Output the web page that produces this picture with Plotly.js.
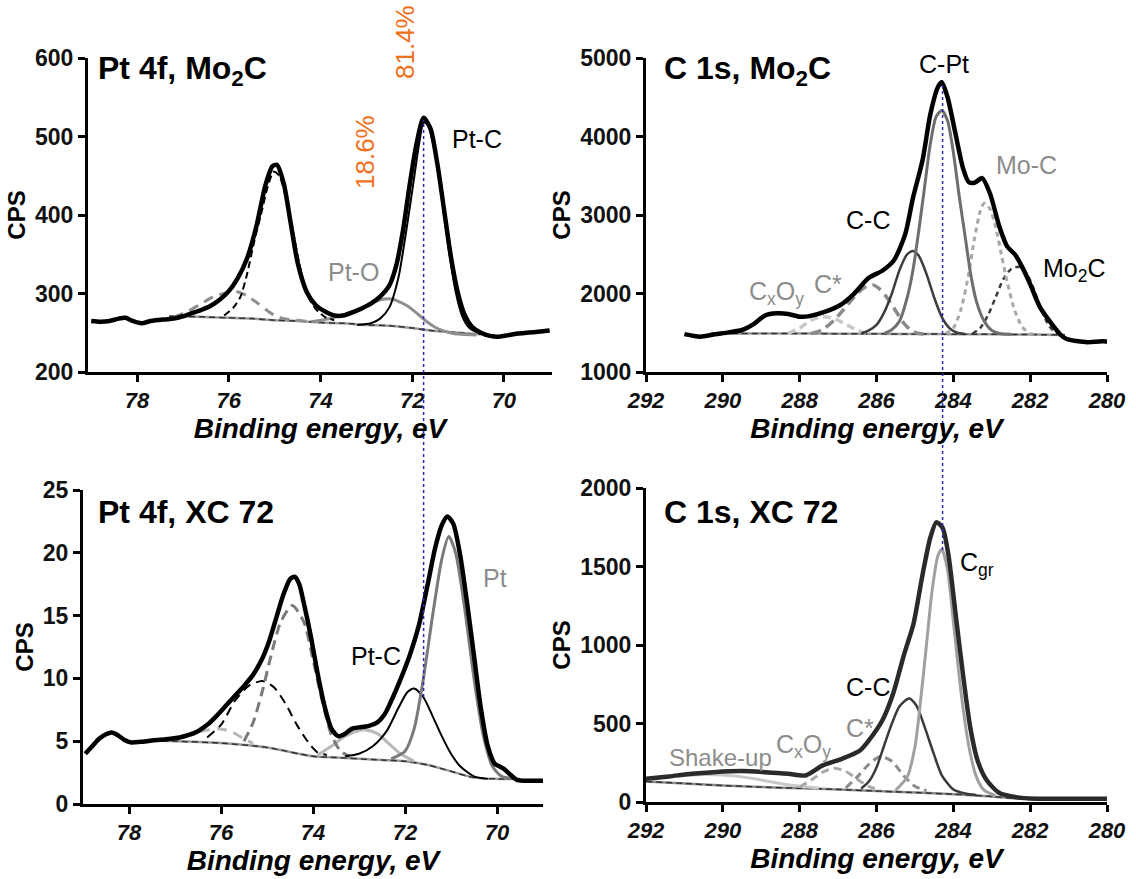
<!DOCTYPE html>
<html><head><meta charset="utf-8">
<script src="https://cdn.plot.ly/plotly-3.0.1.min.js"></script>
<style>html,body{margin:0;padding:0;background:#fff}#chart{width:1136px;height:879px}</style>
</head><body><div id="chart"></div><script>
// ---------- Panel A: Pt 4f, Mo2C ----------
const ptMoE = [79.0,78.8,78.6,78.4,78.25,78.1,77.9,77.7,77.4,77.2,77.0,76.8,76.6,76.4,76.2,76.0,75.8,75.6,75.4,75.2,75.05,74.95,74.8,74.65,74.5,74.3,74.1,73.9,73.7,73.5,73.3,73.1,72.9,72.7,72.5,72.35,72.2,72.05,71.9,71.75,71.6,71.45,71.3,71.15,71.0,70.85,70.7,70.5,70.3,70.1,69.9,69.7,69.5,69.3,69.0];
const ptMoCps = [265,264,265,268,269,265,262,265,267,268,271,275,279,284,292,303,320,345,385,438,462,464,440,390,340,302,285,277,272,272,276,281,287,296,310,335,380,440,492,524,510,465,405,345,300,272,258,250,246,245,247,249,250,251,253];
const ptMoPtC72E = [73.2,72.9,72.7,72.5,72.3,72.15,72.0,71.85,71.75,71.65,71.5,71.35,71.2,71.05,70.9,70.75,70.6,70.4];
const ptMoPtC72 = [260,262,268,282,320,372,430,490,518,514,478,420,355,302,270,256,251,249];
const ptMoPtC52E = [76.1,75.9,75.75,75.6,75.45,75.3,75.15,75.02,74.9,74.75,74.6,74.45,74.3,74.1,73.9,73.7];
const ptMoPtC52 = [272,282,295,325,365,400,436,455,450,422,380,335,300,280,270,266];
const ptMoPtO72E = [74.2,73.8,73.4,73.1,72.8,72.6,72.45,72.3,72.1,71.9,71.7,71.5,71.3,71.1,70.9,70.6];
const ptMoPtO72 = [264,268,275,282,290,293,293,290,284,275,265,257,252,249,248,247];
const ptMoPtO52E = [77.2,76.9,76.6,76.3,76.0,75.8,75.6,75.4,75.2,75.0,74.8,74.5,74.2];
const ptMoPtO52 = [270,277,287,297,301,302,297,289,280,272,268,266,264];
const ptMoBgE = [77.3,77.0,76.5,76.0,75.5,75.0,74.5,74.0,73.5,73.0,72.5,72.0,71.6,71.2,70.8,70.5];
const ptMoBg = [271,271,270,269,268,266,265,263,262,260,259,256,253,251,249,248];

// ---------- Panel B: C 1s, Mo2C ----------
const cMoE = [291.0,290.6,290.2,289.85,289.5,289.2,288.9,288.6,288.3,288.0,287.75,287.35,286.95,286.6,286.2,285.85,285.55,285.25,285.05,284.8,284.6,284.4,284.3,284.15,283.95,283.75,283.6,283.45,283.25,283.05,282.8,282.6,282.4,282.2,282.0,281.75,281.45,281.2,281.05,280.8,280.5,280.2,280.0];
const cMoCps = [1482,1450,1480,1505,1535,1610,1720,1748,1740,1705,1712,1765,1850,1990,2200,2290,2420,2760,3220,3700,4280,4630,4690,4500,4050,3600,3420,3410,3470,3280,2850,2600,2500,2330,2120,1830,1620,1470,1420,1395,1380,1390,1390];
const cMoCPtE = [285.8,285.6,285.4,285.2,285.05,284.9,284.75,284.6,284.45,284.3,284.15,284.0,283.85,283.7,283.55,283.4,283.2,283.0,282.8,282.5];
const cMoCPt = [1490,1540,1650,1950,2300,2800,3350,3900,4250,4330,4200,3800,3250,2750,2250,1900,1650,1530,1490,1480];
const cMoCCE = [286.4,286.2,286.0,285.8,285.6,285.4,285.2,285.05,284.9,284.7,284.5,284.3,284.1,283.9,283.7];
const cMoCC = [1490,1530,1600,1760,2000,2300,2500,2540,2480,2250,1950,1700,1560,1500,1485];
const cMoMoCE = [284.2,284.0,283.8,283.6,283.45,283.3,283.2,283.05,282.9,282.75,282.6,282.4,282.2,282.0,281.8];
const cMoMoC = [1490,1560,1800,2250,2700,3050,3150,3080,2850,2500,2150,1780,1570,1490,1480];
const cMoMo2CE = [283.5,283.3,283.1,282.9,282.7,282.5,282.3,282.2,282.05,281.9,281.7,281.5,281.3,281.1];
const cMoMo2C = [1490,1560,1720,1950,2180,2310,2340,2320,2220,2050,1780,1580,1490,1480];
const cMoCstarE = [287.7,287.4,287.1,286.8,286.5,286.3,286.1,285.9,285.7,285.5,285.3,285.1,284.9,284.7];
const cMoCstar = [1490,1540,1660,1830,2000,2080,2110,2050,1930,1780,1630,1530,1490,1480];
const cMoCxOyE = [288.3,288.0,287.7,287.4,287.1,286.8,286.5,286.2];
const cMoCxOy = [1490,1560,1660,1705,1680,1610,1530,1485];
const cMoBgE = [290.3,289.0,288.0,287.0,286.0,285.0,284.0,283.0,282.0,281.1];
const cMoBg = [1490,1490,1490,1488,1486,1484,1482,1480,1478,1470];

// ---------- Panel C: Pt 4f, XC 72 ----------
const ptXcE = [78.95,78.8,78.65,78.5,78.38,78.25,78.1,77.95,77.75,77.5,77.2,76.9,76.7,76.5,76.3,76.1,75.9,75.7,75.5,75.3,75.1,74.95,74.8,74.65,74.5,74.4,74.3,74.2,74.05,73.9,73.75,73.6,73.45,73.3,73.15,73.0,72.8,72.6,72.45,72.3,72.1,71.9,71.7,71.5,71.35,71.2,71.08,70.95,70.8,70.65,70.5,70.35,70.2,70.05,69.95,69.85,69.7,69.55,69.3,69.0];
const ptXcCps = [4.0,4.6,5.2,5.55,5.7,5.5,5.1,4.9,4.95,5.05,5.15,5.3,5.5,5.8,6.3,7.0,7.8,8.6,9.4,10.3,11.6,13.0,14.8,16.6,17.9,18.1,17.5,16.0,13.4,10.4,7.8,6.0,5.4,5.6,6.0,6.1,6.2,6.5,7.1,8.2,9.9,11.8,14.2,17.6,20.3,22.2,22.9,22.3,19.8,16.0,11.8,7.6,4.6,3.2,3.0,2.8,2.3,1.9,1.85,1.85];
const ptXcPtE = [72.3,72.0,71.8,71.6,71.4,71.2,71.05,70.9,70.7,70.5,70.3,70.1,69.9,69.6];
const ptXcPt = [3.6,4.2,6.0,10.0,15.0,19.5,21.3,20.0,15.5,10.0,5.5,3.0,2.2,2.0];
const ptXcPt52E = [75.5,75.3,75.1,74.9,74.7,74.45,74.2,74.0,73.8,73.6,73.4,73.2];
const ptXcPt52 = [5.0,6.5,9.0,12.0,14.5,15.8,14.5,11.5,8.2,5.5,4.2,3.8];
const ptXcPtCE = [73.3,73.0,72.7,72.4,72.15,71.95,71.8,71.6,71.4,71.2,71.0,70.8,70.5,70.2];
const ptXcPtC = [3.8,4.0,4.6,5.8,7.6,8.9,9.2,8.5,7.0,5.4,4.0,3.0,2.2,2.0];
const ptXcPtC52E = [76.3,76.0,75.7,75.4,75.1,74.85,74.6,74.35,74.1,73.9,73.7];
const ptXcPtC52 = [5.3,6.3,8.2,9.4,9.8,9.3,8.0,6.3,4.9,4.1,3.9];
const ptXcPtOE = [73.9,73.6,73.3,73.0,72.85,72.6,72.35,72.1,71.8];
const ptXcPtO = [3.9,4.6,5.4,5.85,5.9,5.6,4.8,4.0,3.4];
const ptXcPtO52E = [76.8,76.4,76.05,75.8,75.5,75.3];
const ptXcPtO52 = [5.3,5.8,6.0,5.8,5.2,4.8];
const ptXcBgE = [77.5,77.0,76.0,75.0,74.0,73.5,72.5,72.0,71.5,71.0,70.5,70.0,69.5];
const ptXcBg = [5.05,5.0,4.85,4.5,3.8,3.7,3.5,3.4,3.1,2.6,2.1,2.0,2.0];

// ---------- Panel D: C 1s, XC 72 ----------
const cXcE = [292.0,291.4,290.8,290.25,289.5,288.9,288.3,287.85,287.4,286.9,286.43,286.2,285.85,285.57,285.28,285.04,284.8,284.6,284.44,284.28,284.13,283.94,283.75,283.56,283.37,283.13,282.8,282.4,281.85,280.9,280.0];
const cXcCps = [148,163,180,190,197,190,180,169,233,275,328,392,519,688,942,1132,1450,1683,1782,1746,1577,1196,815,476,265,138,57,32,21,21,21];
const cXcCgrE = [285.5,285.2,285.0,284.85,284.7,284.55,284.4,284.3,284.15,284.0,283.8,283.6,283.4,283.2,282.9];
const cXcCgr = [75,160,350,650,1000,1350,1570,1610,1480,1150,700,360,160,75,40];
const cXcCCE = [286.4,286.2,286.0,285.8,285.6,285.4,285.15,284.95,284.75,284.5,284.3,284.0,283.7,283.4];
const cXcCC = [85,130,220,360,500,610,660,610,480,300,170,80,55,45];
const cXcCstarE = [286.8,286.5,286.2,285.9,285.6,285.3,285.0,284.7];
const cXcCstar = [90,160,240,290,260,170,100,72];
const cXcCxOyE = [288.0,287.7,287.4,287.1,286.8,286.5,286.2,285.9];
const cXcCxOy = [95,140,190,215,195,145,100,75];
const cXcShakeE = [292.0,291.2,290.5,290.0,289.5,289.0,288.5,288.0,287.5];
const cXcShake = [150,165,175,172,160,140,118,100,88];
const cXcBgE = [292.0,291.0,290.0,289.0,288.0,287.0,286.0,285.0,284.0,283.0,282.5,282.0,281.0,280.0];
const cXcBg = [130,118,105,95,88,80,70,60,50,35,25,22,21,21];

// ---------- drawing ----------
const W = 1136, H = 879;
const FONT = 'Liberation Sans, Arial, sans-serif';
const px = v => v / W;
const py = v => 1 - v / H;

function tr(xs, ys, ax, color, width, dash) {
  const s = ax === 1 ? '' : String(ax);
  return {x: xs, y: ys, xaxis: 'x' + s, yaxis: 'y' + s, type: 'scatter', mode: 'lines',
    line: {color: color, width: width, dash: dash || 'solid', shape: 'spline', smoothing: 0.7},
    hoverinfo: 'skip', showlegend: false};
}

const traces = [
  // A
  tr(ptMoBgE, ptMoBg, 1, '#9a9a9a', 2.5),
  tr(ptMoBgE, ptMoBg, 1, '#333', 1.5, '6px,4px'),
  tr(ptMoPtO52E, ptMoPtO52, 1, '#8f8f8f', 3, '10px,7px'),
  tr(ptMoPtO72E, ptMoPtO72, 1, '#8f8f8f', 3),
  tr(ptMoPtC52E, ptMoPtC52, 1, '#000', 2, '7px,4px'),
  tr(ptMoPtC72E, ptMoPtC72, 1, '#000', 2),
  tr(ptMoE, ptMoCps, 1, '#000', 4.5),
  // B
  tr(cMoBgE, cMoBg, 2, '#9a9a9a', 2.5),
  tr(cMoBgE, cMoBg, 2, '#333', 1.5, '6px,4px'),
  tr(cMoCxOyE, cMoCxOy, 2, '#c8c8c8', 3.5, '8px,5px'),
  tr(cMoCstarE, cMoCstar, 2, '#8a8a8a', 3.5, '10px,6px'),
  tr(cMoMo2CE, cMoMo2C, 2, '#3c3c3c', 2.5, '5px,4px'),
  tr(cMoMoCE, cMoMoC, 2, '#a8a8a8', 3, '5px,4px'),
  tr(cMoCCE, cMoCC, 2, '#3c3c3c', 2.5),
  tr(cMoCPtE, cMoCPt, 2, '#6e6e6e', 3),
  tr(cMoE, cMoCps, 2, '#000', 4.5),
  // C
  tr(ptXcBgE, ptXcBg, 3, '#9a9a9a', 2.5),
  tr(ptXcBgE, ptXcBg, 3, '#333', 1.5, '6px,4px'),
  tr(ptXcPtO52E, ptXcPtO52, 3, '#b8b8b8', 3, '10px,7px'),
  tr(ptXcPtOE, ptXcPtO, 3, '#b8b8b8', 3),
  tr(ptXcPtC52E, ptXcPtC52, 3, '#000', 2, '9px,6px'),
  tr(ptXcPt52E, ptXcPt52, 3, '#7a7a7a', 3, '10px,6px'),
  tr(ptXcPtCE, ptXcPtC, 3, '#000', 2),
  tr(ptXcPtE, ptXcPt, 3, '#7a7a7a', 3),
  tr(ptXcE, ptXcCps, 3, '#000', 4.5),
  // D
  tr(cXcBgE, cXcBg, 4, '#8a8a8a', 2.5),
  tr(cXcBgE, cXcBg, 4, '#333', 1.5, '6px,4px'),
  tr(cXcShakeE, cXcShake, 4, '#c8c8c8', 3),
  tr(cXcCxOyE, cXcCxOy, 4, '#a8a8a8', 3, '8px,5px'),
  tr(cXcCstarE, cXcCstar, 4, '#8c8c8c', 3, '8px,5px'),
  tr(cXcCCE, cXcCC, 4, '#3a3a3a', 2.5),
  tr(cXcCgrE, cXcCgr, 4, '#a0a0a0', 3),
  tr(cXcE, cXcCps, 4, '#2a2a2a', 4.5)
];

function xax(d0, d1, range, anchor) {
  return {domain: [px(d0), px(d1)], range: range, anchor: anchor, showline: true, linecolor: '#000', linewidth: 3,
    ticks: 'outside', ticklen: 7, tickwidth: 3, tickcolor: '#000', tick0: 0, dtick: 2,
    showgrid: false, zeroline: false, automargin: false,
    tickfont: {family: FONT, size: 22, color: '#111', weight: 'bold', style: 'italic'},
    title: {text: 'Binding energy, eV', standoff: 3, font: {family: FONT, size: 28, color: '#000', weight: 'bold', style: 'italic'}}};
}
function yax(top, bot, range, dtick, anchor) {
  return {domain: [py(bot), py(top)], range: range, anchor: anchor, showline: true, linecolor: '#000', linewidth: 3,
    ticks: 'outside', ticklen: 7, tickwidth: 3, tickcolor: '#000', tick0: 0, dtick: dtick,
    showgrid: false, zeroline: false, automargin: false,
    tickfont: {family: FONT, size: 23, color: '#111', weight: 'bold'},
    title: {text: 'CPS', standoff: 3, font: {family: FONT, size: 24, color: '#000', weight: 'bold'}}};
}

function lab(text, x, y, color, size, opts) {
  return Object.assign({text: text, xref: 'paper', yref: 'paper', x: px(x), y: py(y), showarrow: false,
    xanchor: 'center', yanchor: 'middle', font: {family: FONT, size: size || 25, color: color || '#000'}}, opts || {});
}
const TITLE = {family: FONT, size: 32, color: '#000', weight: 'bold'};
const GREY = '#8c8c8c';
const ORANGE = '#f07020';
const annotations = [
  lab('Pt 4f, Mo<sub>2</sub>C', 96, 71, '#000', 32, {xanchor: 'left', font: TITLE}),
  lab('C 1s, Mo<sub>2</sub>C', 662, 71, '#000', 32, {xanchor: 'left', font: TITLE}),
  lab('Pt 4f, XC 72', 96, 512, '#000', 32, {xanchor: 'left', font: TITLE}),
  lab('C 1s, XC 72', 662, 512, '#000', 32, {xanchor: 'left', font: TITLE}),
  lab('81.4%', 405, 42, ORANGE, 26, {textangle: -90}),
  lab('18.6%', 365, 152, ORANGE, 26, {textangle: -90}),
  lab('Pt-C', 477, 139),
  lab('Pt-O', 354, 272, GREY),
  lab('C-Pt', 944, 64),
  lab('Mo-C', 1026, 165, GREY),
  lab('C-C', 868, 220),
  lab('Mo<sub>2</sub>C', 1074, 270),
  lab('C<sub>x</sub>O<sub>y</sub>', 776, 293, GREY),
  lab('C*', 828, 284, GREY),
  lab('Pt', 495, 578, GREY),
  lab('Pt-C', 376, 656),
  lab('C<sub>gr</sub>', 977, 564),
  lab('C-C', 868, 687),
  lab('C*', 860, 728, GREY),
  lab('Shake-up', 720, 757, GREY, 24),
  lab('C<sub>x</sub>O<sub>y</sub>', 803, 746, GREY)
];

const shapes = [
  {type: 'line', xref: 'x', yref: 'paper', x0: 71.75, x1: 71.75, y0: py(697), y1: py(120), line: {color: '#2a2ab0', width: 1.5, dash: 'dot'}},
  {type: 'line', xref: 'x2', yref: 'paper', x0: 284.28, x1: 284.28, y0: py(550), y1: py(85), line: {color: '#2a2ab0', width: 1.5, dash: 'dot'}}
];

const layout = {
  width: W, height: H, margin: {l: 0, r: 0, t: 0, b: 0}, paper_bgcolor: '#fff', plot_bgcolor: '#fff',
  showlegend: false, font: {family: FONT, color: '#000', size: 22},
  xaxis: xax(88, 552, [79.07, 68.95], 'y'),
  yaxis: yax(58, 372, [200, 600], 100, 'x'),
  xaxis2: xax(646, 1107, [292, 280], 'y2'),
  yaxis2: yax(58, 372, [1000, 5000], 1000, 'x2'),
  xaxis3: xax(83, 543, [79, 69], 'y3'),
  yaxis3: yax(490, 804, [0, 25], 5, 'x3'),
  xaxis4: xax(646, 1107, [292, 280], 'y4'),
  yaxis4: yax(488, 802, [0, 2000], 500, 'x4'),
  annotations: annotations, shapes: shapes
};
Plotly.newPlot('chart', traces, layout, {staticPlot: true, displayModeBar: false});
</script></body></html>
